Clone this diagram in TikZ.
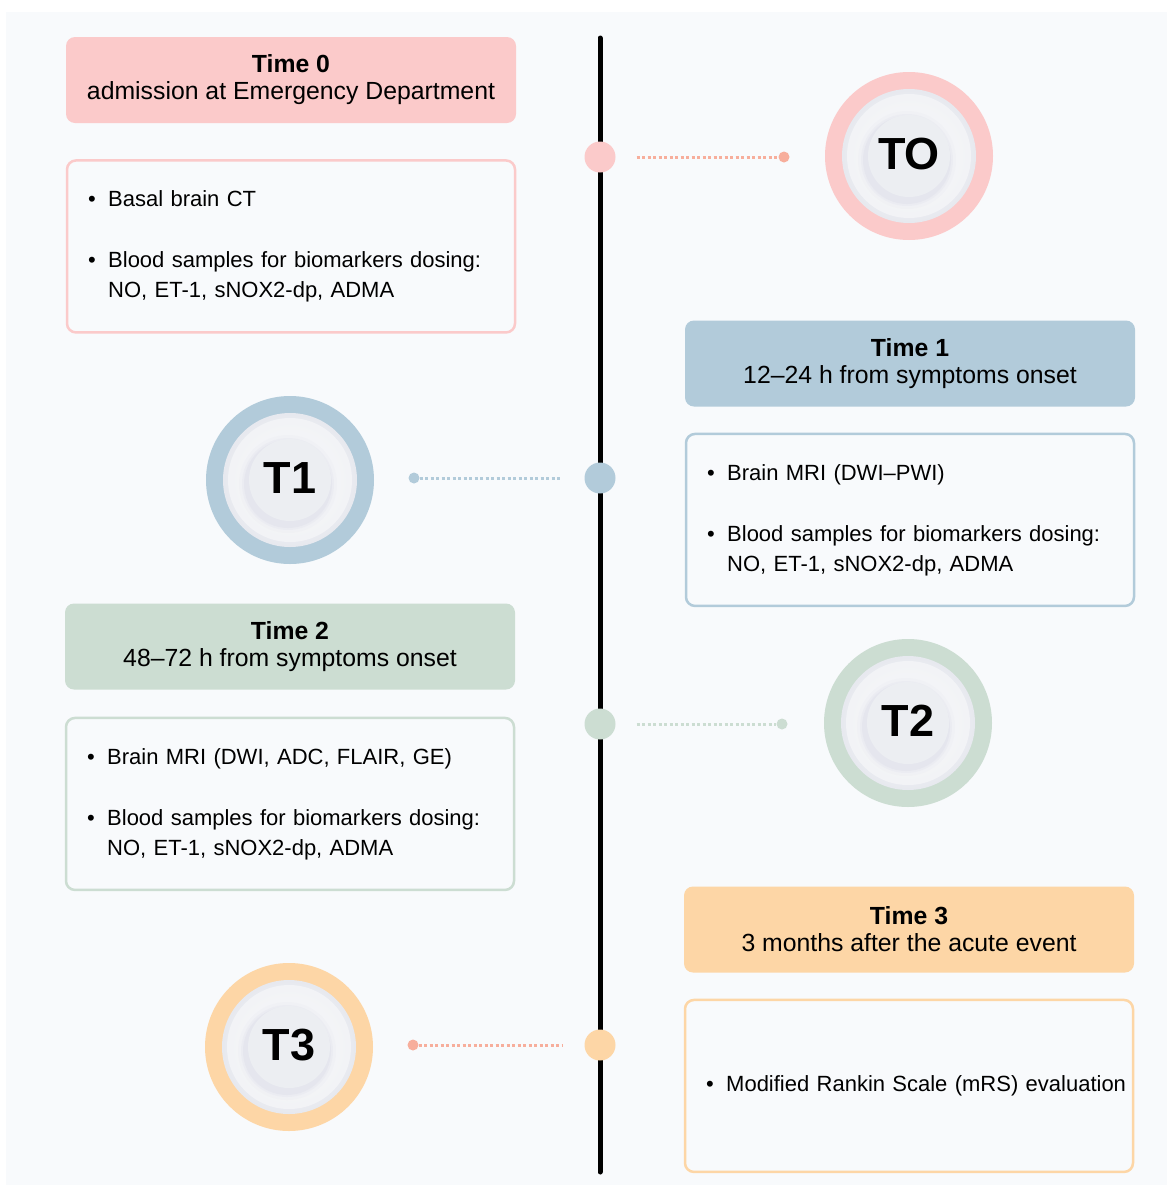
\documentclass[tikz,border=0pt]{standalone}
\usepackage{fontspec}
\setmainfont{Liberation Sans}
\usetikzlibrary{positioning}

\definecolor{pinkc}{HTML}{FBCACA}
\definecolor{salmonc}{HTML}{F7AE9C}
\definecolor{bluec}{HTML}{B2CBDA}
\definecolor{greenc}{HTML}{CCDDD2}
\definecolor{orangec}{HTML}{FDD6A6}
\definecolor{bgc}{HTML}{F8FAFC}
\definecolor{platec}{HTML}{F6F7F9}
\definecolor{discc}{HTML}{ECEEF2}
\definecolor{shadowc}{HTML}{C9CADB}

\newcommand{\headfont}{\fontsize{24.8}{27}\selectfont}
\newcommand{\bodyfont}{\fontsize{22}{30}\selectfont}
\newcommand{\tagfont}{\fontsize{45}{50}\selectfont\bfseries}
\newcommand{\blt}{\textbullet}

\tikzset{
  header/.style={fill=#1, rounded corners=9pt, minimum width=450pt, minimum height=86pt,
    align=center, font=\headfont, inner sep=0pt},
  detail/.style={draw=#1, line width=2.5pt, fill=bgc, rounded corners=9pt, text width=406pt,
    inner xsep=21pt, inner ysep=0pt, minimum height=172pt, align=left, font=\bodyfont},
  linedot/.style={circle, fill=#1, minimum size=31pt, inner sep=0pt},
  enddot/.style={circle, fill=#1, minimum size=11pt, inner sep=0pt},
  dotline/.style={draw=#1, line width=3pt, dash pattern=on 2.8pt off 2.7pt},
}

\begin{document}
\begin{tikzpicture}[x=1pt, y=-1pt]
    % page and light background
    \fill[white] (0,0) rectangle (1173,1189);
    \fill[bgc] (6,12) rectangle (1167,1185);
    \useasboundingbox (0,0) rectangle (1173,1189);

    % the time line
    \coordinate (top) at (600,38);
    \coordinate (bottom) at (600,1172);
    \draw[line width=5pt, line cap=round] (top) -- (bottom);

    % markers on the line and the loose ends of the dotted lines
    \node[linedot=pinkc] (d0) at (600,157) {};
    \node[linedot=bluec] (d1) at (600,478) {};
    \node[linedot=greenc] (d2) at (600,724) {};
    \node[linedot=orangec] (d3) at (600,1045) {};
    \node[enddot=salmonc] (e0) at (784,157) {};
    \node[enddot=bluec] (e1) at (414,478) {};
    \node[enddot=greenc] (e2) at (782,724) {};
    \node[enddot=salmonc] (e3) at (413,1045) {};

    % dotted links
    \draw[dotline=salmonc, shorten <=21pt] (d0) -- (e0);
    \draw[dotline=bluec, shorten >=22pt] (e1) -- (d1);
    \draw[dotline=greenc, shorten <=21pt] (d2) -- (e2);
    \draw[dotline=salmonc, shorten >=22pt] (e3) -- (d3);

    % round badges
    \foreach \x/\y/\c/\t/\n in {909/156/pinkc/TO/0, 290/480/bluec/T1/1,
                                908/723/greenc/T2/2, 289/1047/orangec/T3/3} {
        \fill[\c] (\x,\y) circle (84pt);
        \shade[inner color=white, outer color=discc!85!shadowc] (\x,\y) circle (67pt);
        \fill[platec, opacity=0.7] (\x,\y) circle (62pt);
        \foreach \r/\o in {49/0.07, 46/0.11, 44/0.16} {
            \fill[shadowc, opacity=\o] ([xshift=-2pt, yshift=-4pt]\x,\y) circle (\r pt);
        }
        \fill[discc] (\x,\y) circle (41pt);
        \node[font=\tagfont] (t\n) at (\x,\y-2) {\t};
    }

    % Time 0
    \node[header=pinkc] (h0) at (291,80) {\textbf{Time 0}\\admission at Emergency Department};
    \node[detail=pinkc, below=36pt of h0] (b0) {%
        \begin{tabular}{@{}l@{\hspace{12.5pt}}l@{}}
        \blt & Basal brain CT\\[31pt]
        \blt & Blood samples for biomarkers dosing:\\
             & NO, ET-1, sNOX2-dp, ADMA
        \end{tabular}};

    % Time 1
    \node[header=bluec] (h1) at (910,363.5) {\textbf{Time 1}\\12--24 h from symptoms onset};
    \node[detail=bluec, below=26pt of h1] (b1) {%
        \begin{tabular}{@{}l@{\hspace{12.5pt}}l@{}}
        \blt & Brain MRI (DWI--PWI)\\[31pt]
        \blt & Blood samples for biomarkers dosing:\\
             & NO, ET-1, sNOX2-dp, ADMA
        \end{tabular}};

    % Time 2
    \node[header=greenc] (h2) at (290,646.5) {\textbf{Time 2}\\48--72 h from symptoms onset};
    \node[detail=greenc, below=27pt of h2] (b2) {%
        \begin{tabular}{@{}l@{\hspace{12.5pt}}l@{}}
        \blt & Brain MRI (DWI, ADC, FLAIR, GE)\\[31pt]
        \blt & Blood samples for biomarkers dosing:\\
             & NO, ET-1, sNOX2-dp, ADMA
        \end{tabular}};

    % Time 3
    \node[header=orangec] (h3) at (909,929.5) {\textbf{Time 3}\\3 months after the acute event};
    \node[detail=orangec, below=26pt of h3] (b3) {%
        \begin{tabular}{@{}l@{\hspace{12.5pt}}l@{}}
        \blt & Modified Rankin Scale (mRS) evaluation
        \end{tabular}};
\end{tikzpicture}
\end{document}
